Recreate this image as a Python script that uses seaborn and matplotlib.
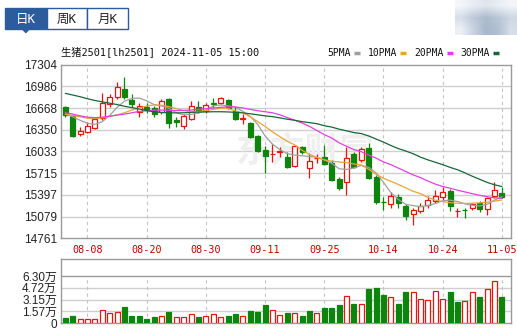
import numpy as np
import matplotlib
matplotlib.use('Agg')
import matplotlib.pyplot as plt
import seaborn as sns
from matplotlib.patches import Rectangle, Polygon

# daily candles, 2024-08-05 .. 2024-11-05 (60 trading days)
opn = [16680, 16552, 16294, 16313, 16372, 16518, 16733, 16831, 16948, 16787,
       16616, 16680, 16665, 16611, 16797, 16494, 16411, 16508, 16679, 16626,
       16743, 16738, 16787, 16626, 16513, 16455, 16260, 16054, 15990, 16030,
       15957, 15825, 16103, 15786, 15938, 15957, 15860, 15625, 15590, 15991,
       15908, 16089, 15664, 15292, 15259, 15371, 15239, 15112, 15166, 15249,
       15307, 15361, 15454, 15156, 15180, 15200, 15273, 15185, 15385, 15420]
high = [16700, 16567, 16396, 16469, 16543, 16884, 16870, 17055, 17119, 16870,
        16738, 16738, 16699, 16801, 16811, 16543, 16577, 16772, 16772, 16738,
        16811, 16826, 16801, 16689, 16577, 16469, 16274, 16118, 16142, 16103,
        16030, 16128, 16118, 16006, 15996, 16128, 15908, 15664, 16093, 16020,
        16093, 16152, 15688, 15371, 15434, 15410, 15263, 15210, 15283, 15381,
        15468, 15517, 15478, 15210, 15210, 15283, 15307, 15371, 15590, 15517]
low = [16545, 16245, 16264, 16303, 16360, 16494, 16689, 16801, 16801, 16689,
       16543, 16600, 16543, 16577, 16381, 16396, 16362, 16494, 16601, 16601,
       16665, 16728, 16650, 16494, 16430, 16235, 16030, 15722, 15874, 15957,
       15786, 15810, 15991, 15649, 15859, 15835, 15600, 15468, 15395, 15796,
       15874, 15625, 15259, 15175, 15210, 15210, 15029, 14956, 15127, 15200,
       15273, 15322, 15161, 15078, 15063, 15175, 15151, 15102, 15356, 15356]
close = [16567, 16264, 16328, 16411, 16504, 16748, 16826, 16982, 16831, 16728,
         16704, 16660, 16587, 16777, 16445, 16469, 16557, 16704, 16626, 16714,
         16728, 16811, 16674, 16504, 16523, 16250, 16040, 15971, 16000, 16040,
         15810, 16118, 16020, 15893, 15943, 15844, 15615, 15493, 15932, 15810,
         16069, 15640, 15300, 15288, 15381, 15283, 15092, 15171, 15234, 15322,
         15381, 15434, 15234, 15161, 15175, 15259, 15190, 15356, 15468, 15361]
volume = [7500, 9800, 5300, 5300, 5300, 17300, 13300, 14700, 21800, 9800,
          9800, 5800, 8400, 9800, 14700, 8000, 8000, 12000, 8400, 9800,
          12000, 8400, 9800, 12400, 9800, 16400, 15000, 24400, 17300, 11100,
          13800, 13800, 10200, 16400, 13800, 20400, 20400, 24400, 36400, 25800,
          25800, 45700, 47500, 37800, 35100, 25800, 41800, 41800, 32400, 31100,
          43100, 32400, 41800, 28400, 29800, 41800, 35500, 45700, 56400, 34562]

ma5 = [16585, 16540, 16490, 16445, 16430, 16470, 16560, 16680, 16770, 16810,
       16815, 16775, 16720, 16700, 16665, 16600, 16570, 16575, 16595, 16640,
       16700, 16715, 16700, 16680, 16620, 16545, 16430, 16260, 16140, 16060,
       16000, 15980, 15970, 15960, 15950, 15910, 15860, 15780, 15770, 15790,
       15830, 15800, 15720, 15580, 15430, 15330, 15260, 15240, 15225, 15240,
       15270, 15310, 15320, 15300, 15265, 15245, 15235, 15260, 15320, 15370]
ma10 = [16577, 16560, 16540, 16520, 16515, 16525, 16545, 16570, 16600, 16640,
        16670, 16700, 16715, 16710, 16690, 16660, 16630, 16615, 16620, 16630,
        16650, 16665, 16665, 16625, 16600, 16540, 16470, 16400, 16320, 16250,
        16180, 16130, 16050, 15990, 15945, 15910, 15890, 15880, 15870, 15850,
        15835, 15770, 15700, 15640, 15595, 15550, 15500, 15450, 15415, 15360,
        15320, 15300, 15283, 15275, 15272, 15275, 15280, 15290, 15305, 15322]
ma20 = [16601, 16580, 16555, 16535, 16528, 16535, 16550, 16565, 16580, 16600,
        16620, 16630, 16638, 16640, 16635, 16632, 16635, 16640, 16650, 16660,
        16670, 16680, 16688, 16685, 16670, 16650, 16630, 16615, 16600, 16570,
        16530, 16490, 16450, 16400, 16340, 16280, 16230, 16160, 16110, 16060,
        16030, 15980, 15935, 15880, 15840, 15790, 15740, 15690, 15650, 15600,
        15555, 15520, 15495, 15465, 15440, 15415, 15390, 15370, 15355, 15346]
ma30 = [16884, 16860, 16835, 16805, 16780, 16760, 16740, 16720, 16695, 16675,
        16655, 16630, 16615, 16605, 16600, 16598, 16600, 16605, 16610, 16612,
        16615, 16615, 16612, 16606, 16598, 16585, 16570, 16555, 16543, 16525,
        16505, 16490, 16470, 16455, 16440, 16410, 16390, 16360, 16335, 16310,
        16295, 16260, 16215, 16170, 16120, 16075, 16040, 16000, 15950, 15910,
        15875, 15840, 15800, 15765, 15720, 15670, 15625, 15580, 15545, 15520]

price_ticks = [14761, 15079, 15397, 15715, 16033, 16350, 16668, 16986, 17304]
vol_ticks = [0, 15750, 31500, 47250, 63000]
vol_labels = ['0', '1.57万', '3.15万', '4.72万', '6.30万']
date_idx = [3, 11, 19, 27, 35, 43, 51, 59]
date_labels = ['08-08', '08-20', '08-30', '09-11', '09-25', '10-14', '10-24', '11-05']
ma_names = ['5PMA', '10PMA', '20PMA', '30PMA']
title = '生猪2501[lh2501] 2024-11-05 15:00'

RED = '#e3170d'
GREEN = '#0d850d'
MA_COLORS = ['#a0a0a0', '#e8a534', '#e23fe2', '#17673a']
FRAME = '#9a9a9a'
MONO = ['DejaVu Sans Mono', 'Noto Sans CJK SC']
SANS = ['Liberation Sans', 'Noto Sans CJK SC']

sns.set_theme(style='white')
plt.rcParams['font.family'] = SANS

W, H = 517, 330
fig = plt.figure(figsize=(W / 100, H / 100), dpi=100)


def box(l, t, r, b):
    return [l / W, 1 - b / H, (r - l) / W, (b - t) / H]


over = fig.add_axes([0, 0, 1, 1])
ax = fig.add_axes(box(61, 64.7, 510.7, 238.3))
axv = fig.add_axes(box(61, 259.3, 510.7, 323.3))

idx = np.arange(len(close))
o = np.array(opn)
c = np.array(close)
up = c >= o
prev = np.r_[o[0], c[:-1]]
vol_up = c >= prev

# ---- price panel
ax.set_xlim(-0.58, 60.19)
ax.set_ylim(price_ticks[0], price_ticks[-1])
for v in price_ticks[1:-1]:
    ax.axhline(v, color='#cfcfcf', lw=1, zorder=0)
for i in date_idx:
    ax.axvline(i, color='#c4c4c4', lw=0.8, ls=(0, (3, 3)), zorder=0)

ax.text(0.39, 0.5, '东方财富', transform=ax.transAxes, fontsize=25, weight='bold',
        color='#efefef', family=SANS, va='center', ha='left', zorder=0.5)

cols = np.where(up, RED, GREEN)
ax.vlines(idx, low, high, colors=cols, lw=0.9, zorder=2)
ax.bar(idx, c - o, bottom=o, width=0.66, color=np.where(up, 'white', GREEN),
       edgecolor=cols, lw=0.9, zorder=3)

for ma, col in zip([ma5, ma10, ma20, ma30], MA_COLORS):
    sns.lineplot(x=idx, y=ma, ax=ax, color=col, lw=0.9, legend=False, zorder=4)

ax.set_yticks(price_ticks)
ax.set_yticklabels([str(v) for v in price_ticks], fontsize=8.5, color='#222222')
ax.set_xticks(date_idx)
ax.set_xticklabels(date_labels, fontsize=7.3, color='#c40000', family=MONO)
ax.tick_params(axis='both', length=0)
ax.tick_params(axis='y', pad=3)
ax.tick_params(axis='x', pad=5)
ax.set_xlabel('')
ax.set_ylabel('')

# ---- volume panel
axv.set_xlim(-0.58, 60.19)
axv.set_ylim(0, 63000 * 64 / 47.3)
for v in vol_ticks[1:-1]:
    axv.axhline(v, color='#cfcfcf', lw=1, zorder=0)
axv.axhline(vol_ticks[-1], color=FRAME, lw=1, zorder=1)
axv.vlines(date_idx, 0, vol_ticks[-1], colors='#c4c4c4', lw=0.8, ls=(0, (3, 3)), zorder=0)
vcols = np.where(vol_up, RED, GREEN)
axv.bar(idx, volume, width=0.66, color=np.where(vol_up, 'white', GREEN),
        edgecolor=vcols, lw=0.9, zorder=3)
axv.set_yticks(vol_ticks)
axv.set_yticklabels(vol_labels, fontsize=8.5, color='#222222')
axv.set_xticks([])
axv.tick_params(axis='both', length=0, pad=3)

for a in (ax, axv):
    for s in a.spines.values():
        s.set_color(FRAME)
        s.set_linewidth(1)

# ---- header, tabs, legend
over.set_xlim(0, W)
over.set_ylim(H, 0)
over.axis('off')
over.patch.set_alpha(0)

blue = '#2d5c9c'
over.add_patch(Rectangle((5, 8.3), 41.7, 21, facecolor=blue, edgecolor=blue, lw=1))
over.add_patch(Rectangle((46.7, 8.3), 40.6, 21, facecolor='white', edgecolor=blue, lw=1))
over.add_patch(Rectangle((87.3, 8.3), 41, 21, facecolor='white', edgecolor=blue, lw=1))
over.add_patch(Polygon([(21.7, 29.3), (30, 29.3), (25.8, 33.5)], facecolor=blue, edgecolor='none'))
for x, t, col in [(25.8, '日K', 'white'), (67, '周K', '#222222'), (107.8, '月K', '#222222')]:
    over.text(x, 19, t, ha='center', va='center', fontsize=9, color=col, family=MONO)

blur = np.array([[[244, 246, 249], [232, 237, 243], [223, 229, 238], [233, 238, 244], [243, 245, 248]],
                 [[214, 222, 232], [190, 202, 218], [172, 187, 206], [186, 199, 215], [206, 215, 227]],
                 [[236, 240, 245], [200, 211, 225], [168, 183, 204], [178, 192, 210], [214, 222, 232]]]) / 255
over.imshow(blur, extent=(455, 517, 35, 0), aspect='auto', interpolation='bilinear', zorder=0)
over.set_xlim(0, W)
over.set_ylim(H, 0)

over.text(61, 52, title, fontsize=7.4, family=MONO, va='center', ha='left', color='#111111')

leg_x = [351, 397.7, 444, 490]
for x, name, col in zip(leg_x, ma_names, MA_COLORS):
    over.text(x, 52.5, name, fontsize=7, family=MONO, ha='right', va='center', color='#111111')
    over.plot([x + 2.5, x + 8.5], [52.7, 52.7], color=col, lw=2.5, solid_capstyle='butt')

over.text(63, 268, '成交量:' + str(volume[-1]), fontsize=8.5, family=SANS, va='center', ha='left', color='#111111')

fig.savefig('out.png', dpi=100)
